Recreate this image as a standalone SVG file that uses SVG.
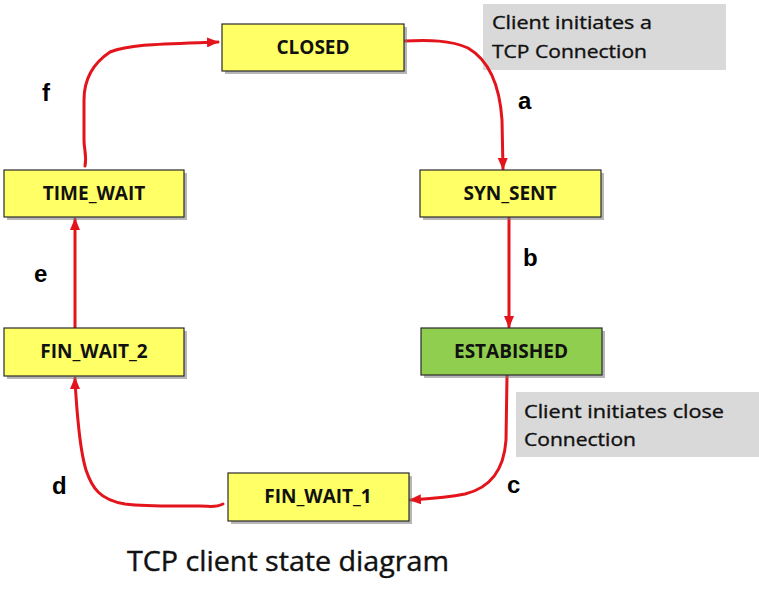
<svg xmlns="http://www.w3.org/2000/svg" width="759" height="600" viewBox="0 0 759 600">
<style>
.node rect.box{stroke:#2a2a2a;stroke-width:1.2}
.yellow{fill:#ffff66}
.green{fill:#8fce4e}
.shadow{fill:#7a7a7a;opacity:0.55}
.lbl{font-family:"Open Sans","Liberation Sans",sans-serif;font-weight:bold;font-size:19px;fill:#111;text-anchor:middle}
.note{fill:#d9d9d9}
.ntxt{font-family:"Open Sans","Liberation Sans",sans-serif;font-size:18px;fill:#111;stroke:#111;stroke-width:0.35}
.letter{font-family:"Liberation Sans",Arial,sans-serif;font-weight:bold;font-size:24px;fill:#000}
.title{font-family:"Open Sans","Liberation Sans",sans-serif;font-size:27px;fill:#111;stroke:#111;stroke-width:0.4}
.conn path{fill:none;stroke:#e3141b;stroke-width:3;stroke-linecap:round;stroke-linejoin:round}
</style>
<defs>
<marker id="arr" markerWidth="12" markerHeight="10" refX="11" refY="5" orient="auto" markerUnits="userSpaceOnUse">
<path d="M0,0 L12,5 L0,10 z" fill="#e3141b"/>
</marker>
</defs>
<rect width="759" height="600" fill="#fff"/>

<g id="note-1">
<rect class="note" x="483" y="4" width="243" height="66"/>
<text class="ntxt" x="492" y="29" textLength="160" lengthAdjust="spacingAndGlyphs">Client initiates a</text>
<text class="ntxt" x="492" y="58" textLength="155" lengthAdjust="spacingAndGlyphs">TCP Connection</text>
</g>
<g id="note-2">
<rect class="note" x="516" y="392" width="243" height="65"/>
<text class="ntxt" x="524" y="418" textLength="200" lengthAdjust="spacingAndGlyphs">Client initiates close</text>
<text class="ntxt" x="524" y="446" textLength="112" lengthAdjust="spacingAndGlyphs">Connection</text>
</g>

<g id="connectors" class="conn">
<path d="M404,41 C430,40 450,40 468,48 C492,62 500,90 502,120 L503,169" marker-end="url(#arr)"/>
<path d="M509,217 L509,327" marker-end="url(#arr)"/>
<path d="M507,376 L506,440 C504,470 490,488 465,494 C445,498 425,499 410,500" marker-end="url(#arr)"/>
<path d="M223,504 C215,508 210,506 200,506 C180,506 150,507 125,504 C100,500 92,488 86,470 C80,450 79,430 77,410 C76,395 75,385 75,378" marker-end="url(#arr)"/>
<path d="M75,328 L75,219" marker-end="url(#arr)"/>
<path d="M85,166 C87,155 84,150 84,140 L84,100 C84,80 92,64 110,52 C130,44 160,44 218,42" marker-end="url(#arr)"/>
</g>

<g id="closed" class="node">
<rect class="shadow" x="225" y="27" width="182" height="47"/>
<rect class="box yellow" x="222" y="24" width="182" height="47"/>
<text class="lbl" x="313" y="54">CLOSED</text>
</g>
<g id="syn-sent" class="node">
<rect class="shadow" x="423" y="173" width="181" height="47"/>
<rect class="box yellow" x="420" y="170" width="181" height="47"/>
<text class="lbl" x="510" y="200">SYN_SENT</text>
</g>
<g id="established" class="node">
<rect class="shadow" x="424" y="331" width="181" height="47"/>
<rect class="box green" x="421" y="328" width="181" height="47"/>
<text class="lbl" x="511" y="358">ESTABISHED</text>
</g>
<g id="time-wait" class="node">
<rect class="shadow" x="7" y="173" width="180" height="47"/>
<rect class="box yellow" x="4" y="170" width="180" height="47"/>
<text class="lbl" x="94" y="200">TIME_WAIT</text>
</g>
<g id="fin-wait-2" class="node">
<rect class="shadow" x="7" y="331" width="180" height="48"/>
<rect class="box yellow" x="4" y="328" width="180" height="48"/>
<text class="lbl" x="94" y="358">FIN_WAIT_2</text>
</g>
<g id="fin-wait-1" class="node">
<rect class="shadow" x="231" y="476" width="181" height="48"/>
<rect class="box yellow" x="228" y="473" width="181" height="48"/>
<text class="lbl" x="318" y="503">FIN_WAIT_1</text>
</g>

<g id="labels">
<text class="letter" x="518" y="109">a</text>
<text class="letter" x="523" y="266">b</text>
<text class="letter" x="507" y="493">c</text>
<text class="letter" x="52" y="494">d</text>
<text class="letter" x="34" y="282">e</text>
<text class="letter" x="42" y="101">f</text>
</g>

<text class="title" x="288" y="571" text-anchor="middle" textLength="322" lengthAdjust="spacingAndGlyphs">TCP client state diagram</text>
</svg>
